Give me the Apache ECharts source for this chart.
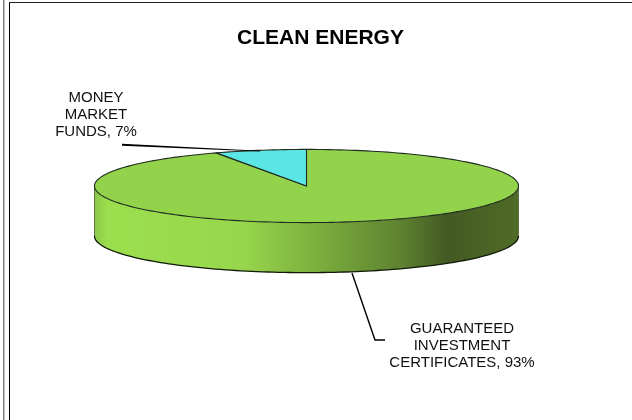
<!DOCTYPE html>
<html>
<head>
<meta charset="utf-8">
<style>html,body{margin:0;padding:0;background:#fff}#chart{width:632px;height:420px}</style>
<script src="https://cdn.jsdelivr.net/npm/echarts@6/dist/echarts.min.js"></script>
</head>
<body>
<div id="chart"></div>
<script>
// Portfolio allocation for the Clean Energy fund
const categories = ['GUARANTEED\nINVESTMENT\nCERTIFICATES', 'MONEY\nMARKET\nFUNDS'];
const shares = [93, 7];
const sliceColors = ['#93D34B', '#5CE5E5'];

const total = shares.reduce((a, b) => a + b, 0);
const FONT = '"Liberation Sans", Arial, sans-serif';

// Tilted disc geometry
const cx = 306.5, cy = 186, rx = 212, ry = 36.6, depth = 50;
const rad = d => d * Math.PI / 180;
const rimPoint = (deg, dy) => [cx + rx * Math.sin(rad(deg)), cy - ry * Math.cos(rad(deg)) + (dy || 0)];

function arcPoints(from, to, dy) {
  const pts = [];
  const n = Math.max(2, Math.ceil(Math.abs(to - from) / 1.5));
  for (let i = 0; i <= n; i++) pts.push(rimPoint(from + (to - from) * i / n, dy));
  return pts;
}

// Shading along the front wall, running left to right
const wallFill = new echarts.graphic.LinearGradient(cx - rx, 0, cx + rx, 0, [
  { offset: 0, color: '#8CC84A' },
  { offset: 0.03, color: '#9BDF4E' },
  { offset: 0.35, color: '#97D64C' },
  { offset: 0.53, color: '#7BAD3D' },
  { offset: 0.72, color: '#5E8330' },
  { offset: 0.83, color: '#435A22' },
  { offset: 1, color: '#4F6B27' }
], true);
wallFill.global = true;

const labelSpots = [
  { x: 462, y: 345.5, line: [[352, 273], [375, 340], [385, 340]] },
  { x: 96, y: 114.5, taper: [[122, 143.8], [122, 145.8], [260, 151.6], [260, 150.8]] }
];

function renderSlice(params) {
  const i = params.dataIndex;
  const before = shares.slice(0, i).reduce((a, b) => a + b, 0);
  const start = before / total * 360;
  const end = (before + shares[i]) / total * 360;
  const children = [];

  // Only the part of the rim between 90 and 270 degrees faces the viewer
  const wallFrom = Math.max(start, 90), wallTo = Math.min(end, 270);
  if (wallFrom < wallTo) {
    const upper = arcPoints(wallFrom, wallTo, 0);
    const lower = arcPoints(wallFrom, wallTo, depth);
    children.push({
      type: 'polygon',
      shape: { points: upper.concat(lower.slice().reverse()) },
      style: { fill: wallFill, stroke: null }
    });
    children.push({
      type: 'polyline',
      shape: { points: lower },
      style: { fill: null, stroke: '#111a08', lineWidth: 1.3 }
    });
    [wallFrom, wallTo].forEach(a => children.push({
      type: 'polyline',
      shape: { points: [rimPoint(a, 0), rimPoint(a, depth)] },
      style: { fill: null, stroke: '#5f6f4a', lineWidth: 1 }
    }));
  }

  // Upper face of the slice
  children.push({
    type: 'polygon',
    shape: { points: [[cx, cy]].concat(arcPoints(start, end, 0)) },
    style: { fill: sliceColors[i], stroke: '#1f2b1f', lineWidth: 1.1, lineJoin: 'round' }
  });

  // Leader line
  const spot = labelSpots[i];
  if (spot.line) {
    children.push({
      type: 'polyline',
      shape: { points: spot.line },
      style: { fill: null, stroke: '#000', lineWidth: 1.4 }
    });
  } else {
    children.push({
      type: 'polygon',
      shape: { points: spot.taper },
      style: { fill: '#000', stroke: null }
    });
  }

  // Category label with its share
  children.push({
    type: 'text',
    style: {
      x: spot.x, y: spot.y,
      text: categories[i] + ', ' + Math.round(shares[i] / total * 100) + '%',
      fill: '#111', font: '15px ' + FONT, lineHeight: 17,
      align: 'center', verticalAlign: 'middle'
    }
  });
  return { type: 'group', children };
}

const chart = echarts.init(document.getElementById('chart'), null, { renderer: 'canvas' });
chart.setOption({
  animation: false,
  backgroundColor: '#fff',
  title: {
    text: 'CLEAN ENERGY',
    left: 315.5, top: 23,
    textAlign: 'center',
    textStyle: { fontFamily: FONT, fontSize: 21, fontWeight: 'bold', color: '#000' }
  },
  // Panel rules around the chart
  graphic: [
    { type: 'rect', silent: true, shape: { x: 3, y: 0, width: 1.5, height: 420 }, style: { fill: '#7f7f7f' } },
    { type: 'rect', silent: true, shape: { x: 9, y: 2, width: 1, height: 418 }, style: { fill: '#000' } },
    { type: 'rect', silent: true, shape: { x: 9, y: 2, width: 623, height: 1 }, style: { fill: '#222' } }
  ],
  series: [{
    type: 'custom',
    coordinateSystem: 'none',
    silent: true,
    data: shares,
    renderItem: renderSlice
  }]
});
</script>
</body>
</html>
